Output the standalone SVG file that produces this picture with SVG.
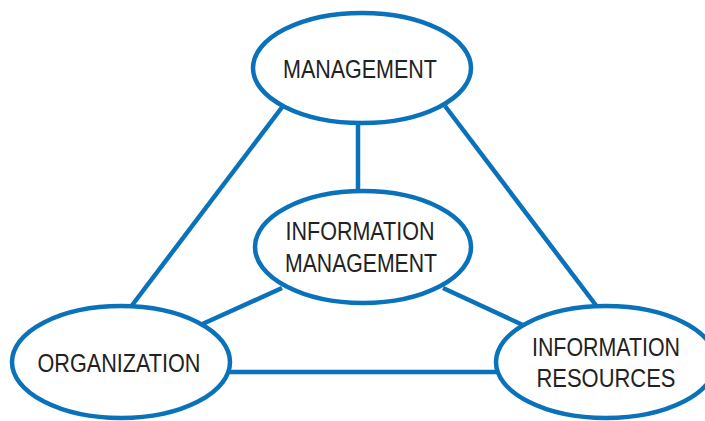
<svg xmlns="http://www.w3.org/2000/svg" width="705" height="421" viewBox="0 0 705 421">
<style>
.n{fill:#fff;stroke:#0a72ba;stroke-width:4.5}
.c{stroke:#0a72ba;stroke-width:4.5;fill:none}
text{font-family:"Liberation Sans",Arial,sans-serif;font-size:25px;fill:#222;text-anchor:middle}
</style>
<rect width="705" height="421" fill="#fff"/>
<g id="connectors">
<line class="c" x1="283" y1="106" x2="130" y2="308"/>
<line class="c" x1="445" y1="106" x2="598" y2="308"/>
<line class="c" x1="358" y1="123" x2="358" y2="191"/>
<line class="c" x1="282" y1="288" x2="198" y2="326"/>
<line class="c" x1="443" y1="288" x2="525" y2="326"/>
<line class="c" x1="228" y1="372" x2="497" y2="372"/>
</g>
<g id="management">
<ellipse class="n" cx="362" cy="68" rx="109" ry="55"/>
<text x="360" y="78" textLength="154" lengthAdjust="spacingAndGlyphs">MANAGEMENT</text>
</g>
<g id="information-management">
<ellipse class="n" cx="363" cy="247" rx="108" ry="56"/>
<text x="360" y="240" textLength="149" lengthAdjust="spacingAndGlyphs">INFORMATION</text>
<text x="361" y="272" textLength="152" lengthAdjust="spacingAndGlyphs">MANAGEMENT</text>
</g>
<g id="organization">
<ellipse class="n" cx="121" cy="362" rx="109" ry="56"/>
<text x="119" y="372" textLength="163" lengthAdjust="spacingAndGlyphs">ORGANIZATION</text>
</g>
<g id="information-resources">
<ellipse class="n" cx="606" cy="362" rx="110" ry="56"/>
<text x="606" y="356" textLength="148" lengthAdjust="spacingAndGlyphs">INFORMATION</text>
<text x="606" y="387" textLength="139" lengthAdjust="spacingAndGlyphs">RESOURCES</text>
</g>
</svg>
